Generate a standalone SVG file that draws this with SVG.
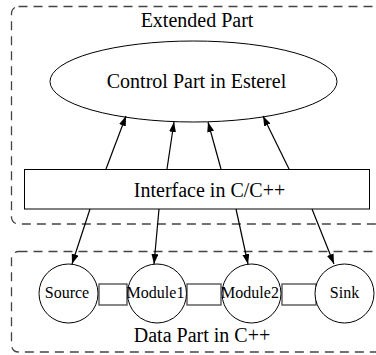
<svg xmlns="http://www.w3.org/2000/svg" width="376" height="355" viewBox="0 0 376 355">
  <style>
    .frame { fill: none; stroke: #444; stroke-width: 1.3; stroke-dasharray: 9 6; }
    .shape { fill: #fff; stroke: #000; stroke-width: 1; }
    .buf { fill: #fff; stroke: #555; stroke-width: 1.4; }
    .big { font-family: "Liberation Serif", "Times New Roman", serif; font-size: 20px; fill: #000; text-anchor: middle; }
    .small { font-family: "Liberation Serif", "Times New Roman", serif; font-size: 16px; fill: #000; text-anchor: middle; }
    .edge { stroke: #000; stroke-width: 1.2; fill: none; marker-end: url(#head); }
  </style>
  <defs>
    <marker id="head" markerUnits="userSpaceOnUse" markerWidth="10" markerHeight="8" refX="10" refY="3.5" orient="auto">
      <path d="M0,0 L10,3.5 L0,7 z" fill="#000"/>
    </marker>
  </defs>
  <rect width="376" height="355" fill="#fff"/>

  <!-- clusters -->
  <g id="extended-part">
    <rect class="frame" x="11.5" y="6.5" width="380" height="217.5" rx="7"/>
    <text class="big" x="197" y="27">Extended Part</text>
  </g>
  <g id="data-part">
    <rect class="frame" x="11.5" y="251.5" width="380" height="100.5" rx="7"/>
    <text class="big" x="202" y="342">Data Part in C++</text>
  </g>

  <!-- nodes -->
  <g id="control">
    <ellipse class="shape" cx="193.5" cy="81.5" rx="143.5" ry="40.5"/>
    <text class="big" x="196.5" y="88">Control Part in Esterel</text>
  </g>
  <g id="interface">
    <rect class="shape" x="24.5" y="169.5" width="345" height="39.5"/>
    <text class="big" x="209.5" y="197">Interface in C/C++</text>
  </g>
  <g id="buf1"><rect class="buf" x="99" y="284" width="28" height="21"/></g>
  <g id="buf2"><rect class="buf" x="187" y="284" width="34" height="21"/></g>
  <g id="buf3"><rect class="buf" x="282" y="284" width="34" height="21"/></g>
  <g id="source">
    <circle class="shape" cx="68.5" cy="293.5" r="29.5"/>
    <text class="small" x="67" y="298">Source</text>
  </g>
  <g id="module1">
    <circle class="shape" cx="157" cy="293.5" r="29.5"/>
    <text class="small" x="155.5" y="298">Module1</text>
  </g>
  <g id="module2">
    <circle class="shape" cx="251.5" cy="293.5" r="29.5"/>
    <text class="small" x="250" y="298">Module2</text>
  </g>
  <g id="sink">
    <circle class="shape" cx="344.5" cy="293.5" r="29.5"/>
    <text class="small" x="344.5" y="298">Sink</text>
  </g>

  <!-- connectors -->
  <g id="edges">
    <line class="edge" x1="106" y1="169" x2="126" y2="116"/>
    <line class="edge" x1="167" y1="169" x2="174" y2="122"/>
    <line class="edge" x1="221" y1="169" x2="208" y2="122"/>
    <line class="edge" x1="289" y1="169" x2="263" y2="116"/>
    <line class="edge" x1="90" y1="209" x2="72" y2="264"/>
    <line class="edge" x1="159" y1="209" x2="154" y2="264"/>
    <line class="edge" x1="236" y1="209" x2="248" y2="264"/>
    <line class="edge" x1="312" y1="209" x2="334" y2="264"/>
  </g>
</svg>
